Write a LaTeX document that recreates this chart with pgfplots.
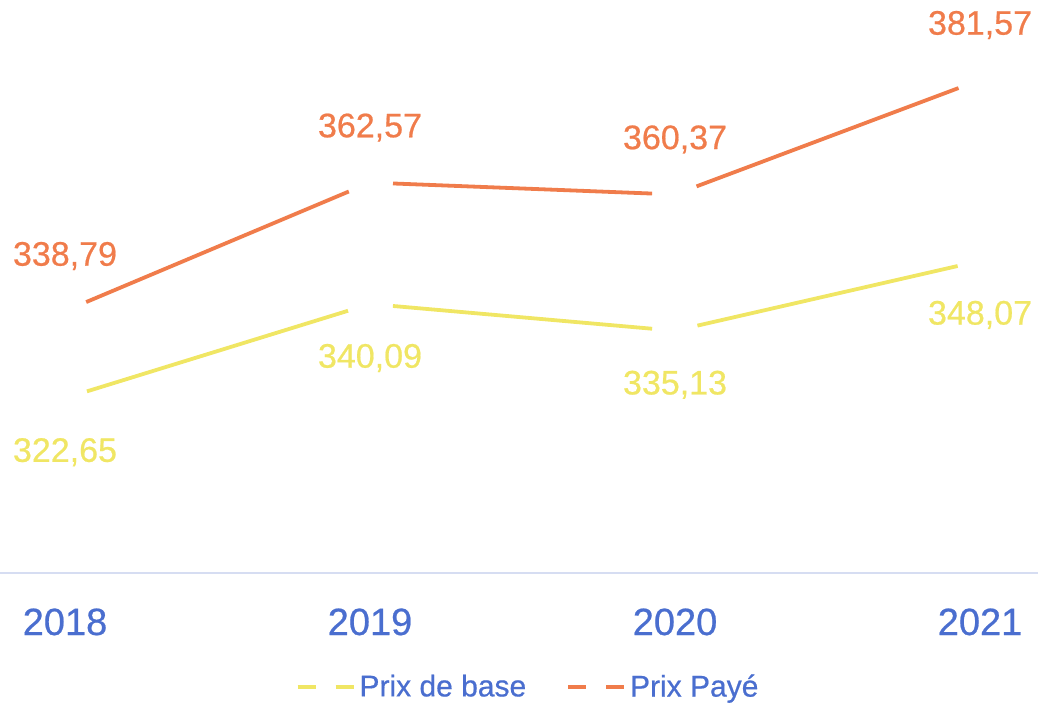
\documentclass[border=0pt]{standalone}
\usepackage{pgfplots}
\pgfplotsset{compat=1.18}
\usepackage{fontspec}
\setmainfont{Liberation Sans}
\newfontfamily\medfont[FakeBold=0.6]{Liberation Sans}
\definecolor{orangec}{RGB}{240,124,75}
\definecolor{yellowc}{RGB}{240,230,100}
\definecolor{bluec}{RGB}{74,110,207}
\definecolor{axisc}{RGB}{214,221,242}
\begin{document}
\begin{tikzpicture}
\path[use as bounding box] (0,-66.5pt) rectangle (519pt,286.5pt);
\begin{axis}[
  at={(0,0)}, anchor=south west,
  scale only axis, width=519pt, height=286.5pt,
  xmin=-0.2131, xmax=3.190, ymin=290.27, ymax=396.38,
  axis x line=bottom, axis y line=none,
  axis line style={-, draw=axisc, line width=0.8pt},
  xtick={0,1,2,3}, xticklabels={2018,2019,2020,2021},
  major tick length=0pt,
  xticklabel style={font=\medfont\fontsize{19}{19}\selectfont, text=bluec, anchor=base, yshift=-31pt},
  clip=false,
  legend columns=2,
  legend style={at={(0.5097,-0.199)}, anchor=center, draw=none, fill=none,
    font=\medfont\fontsize{15}{15}\selectfont, text=bluec,
    /tikz/every even column/.append style={column sep=18pt}},
  legend image code/.code={\draw[#1] (0pt,0pt) -- (28pt,0pt);},
]
\addlegendimage{yellowc, line width=1.9pt, dash pattern=on 9pt off 10pt}
\addlegendentry{Prix de base}
\addlegendimage{orangec, line width=1.9pt, dash pattern=on 9pt off 10pt}
\addlegendentry{Prix Payé}
% Prix de base segments
\addplot[forget plot, yellowc, line width=1.9pt, shorten >=11.5pt, shorten <=11.5pt] coordinates {(0,322.65) (1,340.09)};
\addplot[forget plot, yellowc, line width=1.9pt, shorten >=11.5pt, shorten <=11.5pt] coordinates {(1,340.09) (2,335.13)};
\addplot[forget plot, yellowc, line width=1.9pt, shorten >=11.5pt, shorten <=11.5pt] coordinates {(2,335.13) (3,348.07)};
% Prix Payé segments
\addplot[forget plot, orangec, line width=1.9pt, shorten >=11.5pt, shorten <=11.5pt] coordinates {(0,338.79) (1,362.57)};
\addplot[forget plot, orangec, line width=1.9pt, shorten >=11.5pt, shorten <=11.5pt] coordinates {(1,362.57) (2,360.37)};
\addplot[forget plot, orangec, line width=1.9pt, shorten >=11.5pt, shorten <=11.5pt] coordinates {(2,360.37) (3,381.57)};
% labels
\addplot[forget plot, draw=none, point meta=y,
  nodes near coords={\pgfmathprintnumber[fixed,fixed zerofill,precision=2,use comma,assume math mode=true]{\pgfplotspointmeta}},
  every node near coord/.append style={anchor=center, yshift=-27pt, text=yellowc, font=\medfont\fontsize{17}{17}\selectfont}]
  coordinates {(0,322.65) (1,340.09) (2,335.13) (3,348.07)};
\addplot[forget plot, draw=none, point meta=y,
  nodes near coords={\pgfmathprintnumber[fixed,fixed zerofill,precision=2,use comma,assume math mode=true]{\pgfplotspointmeta}},
  every node near coord/.append style={anchor=center, yshift=27.5pt, text=orangec, font=\medfont\fontsize{17}{17}\selectfont}]
  coordinates {(0,338.79) (1,362.57) (2,360.37) (3,381.57)};
\end{axis}
\end{tikzpicture}
\end{document}
